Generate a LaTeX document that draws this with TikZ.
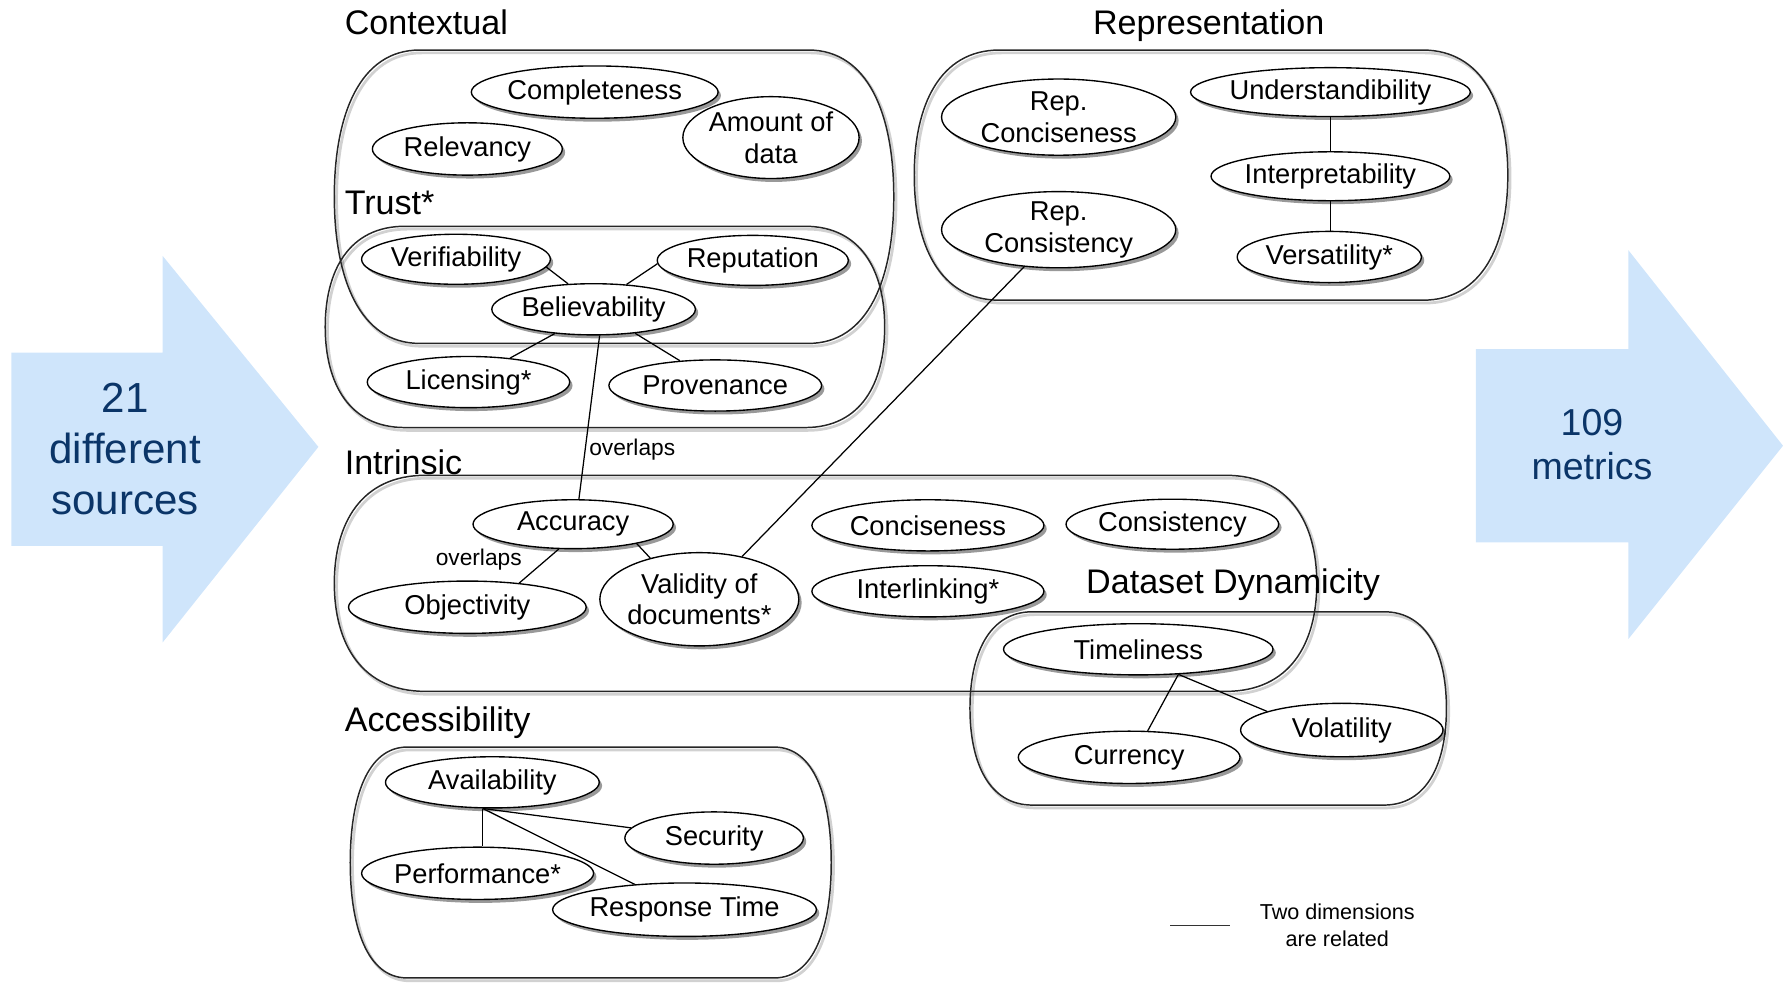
\documentclass[tikz,border=0pt]{standalone}
\usepackage{fontspec}
\setmainfont{Liberation Sans}
\usetikzlibrary{shapes.geometric,shadows}
\definecolor{arrowfill}{HTML}{CFE5FB}
\definecolor{arrowtext}{HTML}{0B3568}
% barrel-shaped group box: [options]{x0}{y0}{x1}{y1}{corner width}
\newcommand\barrelbox[6][]{%
  \pgfmathsetmacro\bxa{#2+#6}\pgfmathsetmacro\bxb{#4-#6}%
  \pgfmathsetmacro\bxc{#2+0.3*#6}\pgfmathsetmacro\bxd{#4-0.3*#6}%
  \pgfmathsetmacro\bym{(#3+#5)/2}%
  \pgfmathsetmacro\bye{#3+0.22*(#5-#3)}\pgfmathsetmacro\byf{#5-0.22*(#5-#3)}%
  \draw[#1] (\bxa,#3) -- (\bxb,#3) .. controls (\bxd,#3) and (#4,\bye) .. (#4,\bym)
    .. controls (#4,\byf) and (\bxd,#5) .. (\bxb,#5) -- (\bxa,#5)
    .. controls (\bxc,#5) and (#2,\byf) .. (#2,\bym)
    .. controls (#2,\bye) and (\bxc,#3) .. cycle;}
\begin{document}
\begin{tikzpicture}[x=1pt,y=-1pt,
  boxline/.style={line width=1.3pt, draw=black!85},
  boxshadow/.style={line width=2.4pt, draw=black, opacity=0.18, xshift=2pt, yshift=-2.5pt},
  ell/.style={ellipse, draw, fill=white, line width=1.2pt, inner sep=-14pt, align=center,
    font=\fontsize{24}{28}\selectfont,
    drop shadow={shadow xshift=2.5pt, shadow yshift=-3pt, opacity=0.4, fill=black}},
  heading/.style={anchor=base west, inner sep=0pt, font=\fontsize{30}{34}\selectfont},
  conn/.style={line width=1.1pt},
  smalltext/.style={inner sep=0pt, font=\fontsize{20}{22}\selectfont},
  bigarrow/.style={fill=arrowfill, draw=none},
  arrowlabel/.style={align=center, text=arrowtext, inner sep=0pt}]
\useasboundingbox (0,0) rectangle (1568,864);

% big arrows
\fill[bigarrow] (10,310) -- (143,310) -- (143,225) -- (280,393) -- (143,565) -- (143,480) -- (10,480) -- cycle;
\node[arrowlabel, font=\fontsize{37}{45}\selectfont] (src) at (110,395) {21\\different\\sources};
\fill[bigarrow] (1298,307) -- (1432,307) -- (1432,220) -- (1568,392) -- (1432,562) -- (1432,477) -- (1298,477) -- cycle;
\node[arrowlabel, font=\fontsize{33}{39}\selectfont] (met) at (1400,391) {109\\metrics};

% group boxes
\barrelbox[boxshadow]{294}{44}{786}{302}{75}
\barrelbox[boxshadow]{286}{199}{778}{376}{70}
\barrelbox[boxshadow]{804}{44}{1326}{264}{75}
\barrelbox[boxshadow]{294}{418}{1158}{608}{80}
\barrelbox[boxshadow]{853}{538}{1272}{708}{55}
\barrelbox[boxshadow]{308}{657}{731}{860}{50}
\barrelbox[boxline]{294}{44}{786}{302}{75}
\barrelbox[boxline]{286}{199}{778}{376}{70}
\barrelbox[boxline]{804}{44}{1326}{264}{75}
\barrelbox[boxline]{294}{418}{1158}{608}{80}
\barrelbox[boxline]{853}{538}{1272}{708}{55}
\barrelbox[boxline]{308}{657}{731}{860}{50}

% headings
\node[heading] (hctx) at (303,30) {Contextual};
\node[heading] (hrep) at (961,30) {Representation};
\node[heading] (htru) at (303,189) {Trust*};
\node[heading] (hint) at (303,417) {Intrinsic};
\node[heading] (hacc) at (303,643) {Accessibility};
\node[heading] (hdyn) at (955,522) {Dataset Dynamicity};

% Contextual
\node[ell, minimum width=217, minimum height=46] (comp) at (523,81) {Completeness};
\node[ell, minimum width=167, minimum height=46] (rel) at (411,131) {Relevancy};
\node[ell, minimum width=155, minimum height=72] (amt) at (678,121) {Amount of\\data};
% Trust
\node[ell, minimum width=166, minimum height=44] (ver) at (401,228) {Verifiability};
\node[ell, minimum width=168, minimum height=44] (rep) at (662,229) {Reputation};
\node[ell, minimum width=179, minimum height=45] (bel) at (522,272) {Believability};
\node[ell, minimum width=178, minimum height=45] (lic) at (412,336) {Licensing*};
\node[ell, minimum width=187, minimum height=45] (prov) at (629,339) {Provenance};
% Representation
\node[ell, minimum width=206, minimum height=67] (rcon) at (931,103) {Rep.\\Conciseness};
\node[ell, minimum width=206, minimum height=67] (rcst) at (931,202) {Rep.\\Consistency};
\node[ell, minimum width=246, minimum height=43] (und) at (1170,81) {Understandibility};
\node[ell, minimum width=210, minimum height=43] (intp) at (1170,155) {Interpretability};
\node[ell, minimum width=162, minimum height=45] (vers) at (1169,226) {Versatility*};
% Intrinsic
\node[ell, minimum width=176, minimum height=43] (acc) at (504,461) {Accuracy};
\node[ell, minimum width=204, minimum height=45] (conc) at (816,462) {Conciseness};
\node[ell, minimum width=187, minimum height=44] (cons) at (1031,461) {Consistency};
\node[ell, minimum width=209, minimum height=46] (obj) at (411,534) {Objectivity};
\node[ell, minimum width=175, minimum height=82] (val) at (615,527) {Validity of\\documents*};
\node[ell, minimum width=204, minimum height=45] (intl) at (816,520) {Interlinking*};
% Dataset Dynamicity
\node[ell, minimum width=237, minimum height=45] (tim) at (1001,571) {Timeliness};
\node[ell, minimum width=178, minimum height=47] (vol) at (1180,642) {Volatility};
\node[ell, minimum width=195, minimum height=46] (cur) at (993,666) {Currency};
% Accessibility
\node[ell, minimum width=188, minimum height=45] (av) at (433,688) {Availability};
\node[ell, minimum width=157, minimum height=46] (sec) at (628,737) {Security};
\node[ell, minimum width=204, minimum height=46] (perf) at (420,768) {Performance*};
\node[ell, minimum width=232, minimum height=47] (rt) at (602,800) {Response Time};

% connectors
\draw[conn] (ver.-5) -- (bel.135);
\draw[conn] (rep.182) -- (bel.37);
\draw[conn] (bel.212) -- (lic.30);
\draw[conn] (bel.-30) -- (prov.145);
\draw[conn] (bel.283) -- (acc.77);
\draw[conn] (acc.240) -- (obj.25);
\draw[conn] (acc.-17) -- (val.140);
\draw[conn] (rcst.227) -- (val.45);
\draw[conn] (und.south) -- (und.south |- intp.north);
\draw[conn] (intp.south) -- (intp.south |- vers.north);
\draw[conn] (tim.-32) -- (cur.55);
\draw[conn] (tim.-32) -- (vol.166);
\draw[conn] (av.250) -- (av.250 |- perf.north);
\draw[conn] (av.250) -- (sec.173);
\draw[conn] (av.250) -- (rt.153);

% overlap labels
\node[smalltext] (ov1) at (556,395) {overlaps};
\node[smalltext] (ov2) at (421,492) {overlaps};

% legend
\coordinate (lg1) at (1029,814);
\coordinate (lg2) at (1082,814);
\draw[conn, draw=black!80] (lg1) -- (lg2);
\node[align=center, inner sep=0pt, font=\fontsize{19}{24}\selectfont] (leg) at (1176,814) {Two dimensions\\are related};
\end{tikzpicture}
\end{document}
